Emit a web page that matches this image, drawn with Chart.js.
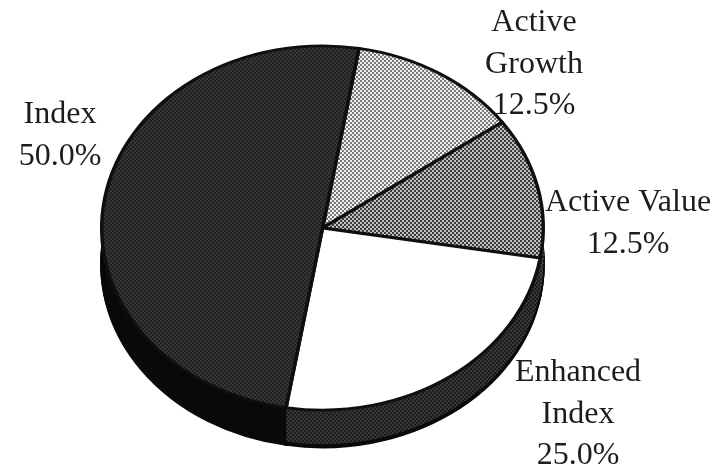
<!DOCTYPE html>
<html>
<head>
<meta charset="utf-8">
<style>
  html, body { margin: 0; padding: 0; background: #fff; overflow: hidden; }
  canvas { display: block; filter: blur(0.55px); }
</style>
<script src="https://cdn.jsdelivr.net/npm/chart.js@4"></script>
</head>
<body>
<canvas id="pieChart" width="723" height="469"></canvas>
<script>
// Values, clockwise from the Index/Active Growth edge
const categories = ['Active Growth', 'Active Value', 'Enhanced Index', 'Index'];
const shares = [12.5, 12.5, 25.0, 50.0];
// Label block centres, one per category
const labelCentersX = [534, 628, 578, 60];
const labelTopsY = [23, 203, 373, 115];

const TILT = 0.825;      // ellipse height / width
const DEPTH = 37;        // thickness of the pie side
const CENTER_Y = 228;

// Screened fills, like the printed original
const screen = (bg, dot) => {
    const tile = document.createElement('canvas');
    tile.width = tile.height = 4;
    const c = tile.getContext('2d');
    c.fillStyle = bg;
    c.fillRect(0, 0, 4, 4);
    c.fillStyle = dot;
    c.fillRect(0, 0, 2, 2);
    c.fillRect(2, 2, 2, 2);
    const pattern = c.createPattern(tile, 'repeat');
    pattern.setTransform(new DOMMatrix().scale(1, 1 / TILT));
    return pattern;
};

const topFills = [screen('#f4f4f4', '#777777'), screen('#c4c4c4', '#383838'), '#ffffff', screen('#1f1f1f', '#383838')];
const sideFills = [screen('#222222', '#555555'), screen('#1e1e1e', '#484848'), screen('#1c1c1c', '#383838'), '#0a0a0a'];

const tiltPlugin = {
    id: 'tilt',
    beforeDatasetsDraw(chart) {
        const ctx = chart.ctx;
        const arcs = chart.getDatasetMeta(0).data;
        ctx.save();
        ctx.translate(0, CENTER_Y);
        ctx.scale(1, TILT);
        ctx.translate(0, -CENTER_Y);
        // stack the slices downwards to build the side wall
        for (let d = DEPTH; d > 0; d--) {
            ctx.save();
            ctx.translate(0, d / TILT);
            arcs.forEach((arc, i) => {
                const opts = arc.options;
                const fill = sideFills[i];
                // keep the screen still while the slice moves down
                if (fill instanceof CanvasPattern) {
                    fill.setTransform(new DOMMatrix().translate(0, -d / TILT).scale(1, 1 / TILT));
                }
                arc.options = Object.assign({}, opts, {
                    backgroundColor: fill,
                    borderColor: d >= DEPTH - 2 ? '#0a0a0a' : fill,
                    borderWidth: d >= DEPTH - 2 ? 3 : 0
                });
                arc.draw(ctx);
                arc.options = opts;
            });
            ctx.restore();
        }
    },
    afterDatasetsDraw(chart) {
        chart.ctx.restore();
    },
    afterDraw(chart) {
        const ctx = chart.ctx;
        ctx.save();
        ctx.font = '32px "Liberation Serif"';
        ctx.fillStyle = '#1c1c1c';
        ctx.textAlign = 'center';
        ctx.textBaseline = 'middle';
        categories.forEach((name, i) => {
            // "Active Value" stays on one line in the original
            const rows = name === 'Active Value' ? [name] : name.split(' ');
            rows.concat(shares[i].toFixed(1) + '%').forEach((row, r) => {
                ctx.fillText(row, labelCentersX[i], labelTopsY[i] + r * 41.5);
            });
        });
        ctx.restore();
    }
};

const pieChart = new Chart(document.getElementById('pieChart'), {
    type: 'pie',
    data: {
        labels: categories,
        datasets: [{
            data: shares,
            backgroundColor: topFills,
            borderColor: '#0f0f0f',
            borderWidth: 3.5,
            borderJoinStyle: 'miter',
            hoverOffset: 0
        }]
    },
    options: {
        responsive: false,
        animation: false,
        rotation: 9.5,
        layout: { padding: { left: 100, right: 178, top: 0, bottom: 13 } },
        plugins: {
            legend: { display: false },
            tooltip: { enabled: false }
        }
    },
    plugins: [tiltPlugin]
});
</script>
</body>
</html>
